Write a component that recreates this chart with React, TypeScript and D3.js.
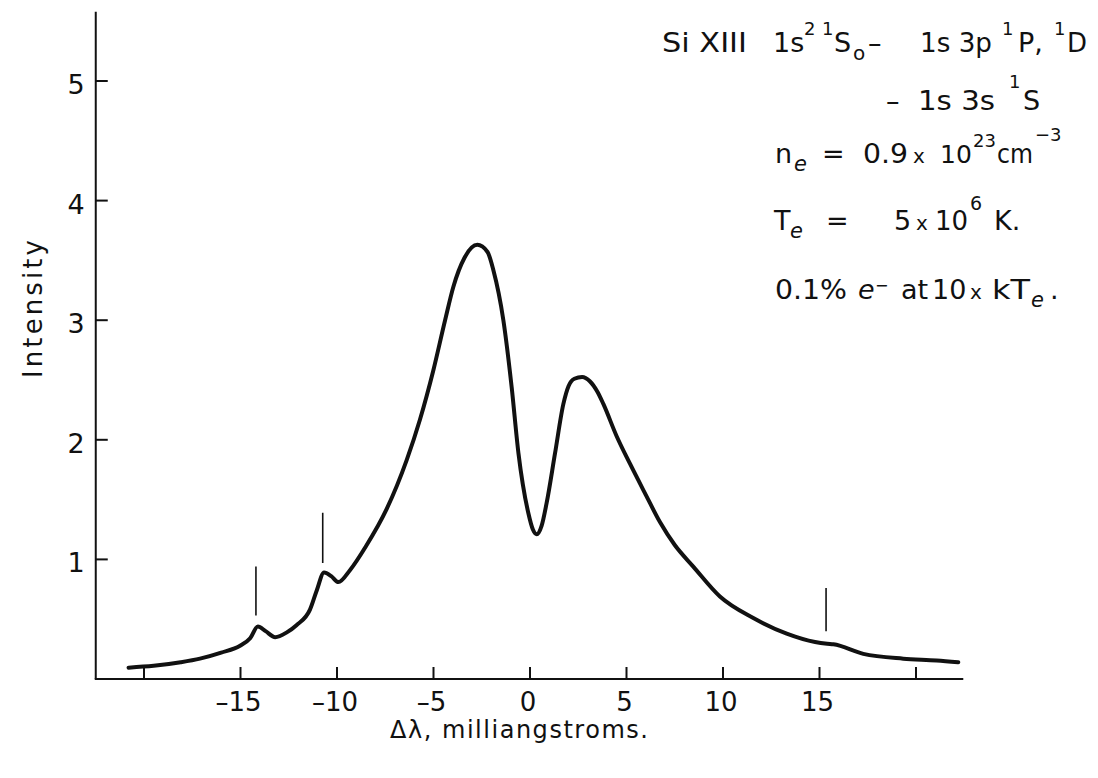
import React from "react";
import * as d3 from "d3";

// ---- data ----
const deltaLambda = [
  -20.8, -19.5, -18.1, -17.1, -16.0, -15.0, -14.5, -14.1, -13.7, -13.2, -12.6, -12.1,
  -11.4, -11.05, -10.67, -10.3, -9.93, -9.33, -8.5, -7.43, -6.39, -5.7, -5.01, -4.4, -3.97,
  -3.4, -2.73, -2.2, -1.9, -1.38, -0.95, -0.6, -0.09, 0.15, 0.35, 0.6, 0.86, 1.3, 1.73,
  2.0, 2.3, 2.7, 3.1, 3.5, 3.8, 4.49, 5.18, 6.0, 6.74, 7.5, 8.46, 9.84, 11.57, 13.3, 14.77,
  15.4, 15.72, 17.27, 19.34, 21.07, 22.19,
];
const intensity = [
  0.095, 0.11, 0.14, 0.17, 0.22, 0.28, 0.34, 0.44, 0.4, 0.35, 0.39, 0.45,
  0.58, 0.74, 0.89, 0.86, 0.81, 0.91, 1.11, 1.42, 1.83, 2.17, 2.58, 3.0, 3.28,
  3.52, 3.63, 3.57, 3.42, 3.0, 2.44, 1.89, 1.39, 1.25, 1.21, 1.28, 1.47, 1.89, 2.3,
  2.45, 2.51, 2.525, 2.49, 2.4, 2.3, 2.03, 1.8, 1.54, 1.31, 1.12, 0.94, 0.69, 0.51, 0.38, 0.31,
  0.295, 0.29, 0.21, 0.17, 0.155, 0.14,
];
const markerX = [-14.2, -10.74, 15.34];
const markerLow = [0.53, 0.97, 0.4];
const markerHigh = [0.94, 1.39, 0.76];

const xTicks = [-20, -15, -10, -5, 0, 5, 10, 15, 20];
const xTickLabels = ["", "\u201315", "\u201310", "\u20135", "0", "5", "10", "15", ""];
const yTicks = [1, 2, 3, 4, 5];
const yTickLabels = ["1", "2", "3", "4", "5"];
const xDomain = [-22.5, 22.45];
const yDomain = [0, 5.58];

const FONT = "'DejaVu Sans', Verdana, sans-serif";

// annotation block: one text per line, pieces as tspans
type Piece = { t: string; x: number; y: number; s: number; it?: boolean; w?: number };
const line1: Piece[] = [
  { t: "Si XIII", x: 662, y: 52, s: 27, w: 85 },
  { t: "1s", x: 773, y: 52, s: 27 },
  { t: "2", x: 804, y: 35, s: 18 },
  { t: "1", x: 822, y: 35, s: 18 },
  { t: "S", x: 834, y: 52, s: 27 },
  { t: "o", x: 853, y: 60, s: 20 },
  { t: "\u2013", x: 868, y: 52, s: 27 },
  { t: "1s 3p", x: 920, y: 52, s: 27, w: 72 },
  { t: "1", x: 1002, y: 35, s: 18 },
  { t: "P,", x: 1018, y: 52, s: 27 },
  { t: "1", x: 1054, y: 35, s: 18 },
  { t: "D", x: 1067, y: 52, s: 26 },
];
const line2: Piece[] = [
  { t: "\u2013", x: 886, y: 110, s: 27 },
  { t: "1s 3s", x: 918, y: 110, s: 27, w: 77 },
  { t: "1", x: 1009, y: 88, s: 18 },
  { t: "S", x: 1023, y: 110, s: 27 },
];
const line3: Piece[] = [
  { t: "n", x: 775, y: 163, s: 27 },
  { t: "e", x: 794, y: 171, s: 21, it: true },
  { t: "=", x: 822, y: 163, s: 27 },
  { t: "0.9", x: 863, y: 163, s: 27, w: 45 },
  { t: "x", x: 913, y: 163, s: 20 },
  { t: "10", x: 940, y: 163, s: 25 },
  { t: "23", x: 973, y: 147, s: 18 },
  { t: "cm", x: 997, y: 163, s: 27, w: 36 },
  { t: "\u22123", x: 1035, y: 141, s: 18 },
];
const line4: Piece[] = [
  { t: "T", x: 774, y: 230, s: 27 },
  { t: "e", x: 790, y: 238, s: 21, it: true },
  { t: "=", x: 826, y: 230, s: 27 },
  { t: "5", x: 894, y: 230, s: 27 },
  { t: "x", x: 916, y: 230, s: 20 },
  { t: "10", x: 935, y: 230, s: 26 },
  { t: "6", x: 970, y: 210, s: 19 },
  { t: "K.", x: 994, y: 230, s: 27 },
];
const line5: Piece[] = [
  { t: "0.1%", x: 775, y: 299, s: 27, w: 72 },
  { t: "e", x: 858, y: 299, s: 27, it: true },
  { t: "\u2212", x: 875, y: 291, s: 16 },
  { t: "at", x: 901, y: 299, s: 27 },
  { t: "10", x: 932, y: 299, s: 27 },
  { t: "x", x: 970, y: 299, s: 20 },
  { t: "kT", x: 992, y: 299, s: 27, w: 38 },
  { t: "e", x: 1031, y: 307, s: 21, it: true },
  { t: ".", x: 1050, y: 299, s: 27 },
];
const annotationLines = [line1, line2, line3, line4, line5];

export default function App() {
  const x = d3.scaleLinear().domain([-20, 20]).range([144, 916]);
  const y = d3.scaleLinear().domain([0, 5]).range([679, 81]);

  const pts = deltaLambda.map((d, i) => [d, intensity[i]] as [number, number]);
  const line = d3
    .line<[number, number]>()
    .x((d) => x(d[0]))
    .y((d) => y(d[1]))
    .curve(d3.curveMonotoneX);

  const x0 = x(xDomain[0]);
  const x1 = x(xDomain[1]);
  const yb = y(yDomain[0]);
  const yt = y(yDomain[1]);

  return (
    <div style={{ position: "absolute", left: 0, top: 0 }}>
      <svg width={1098} height={778} style={{ display: "block", background: "#fff" }} fontFamily={FONT}>
        <rect width={1098} height={778} fill="#fff" />
        {/* axes */}
        <line x1={x0} y1={yt} x2={x0} y2={yb} stroke="#111" strokeWidth={2} />
        <line x1={x0 - 1} y1={yb} x2={x1} y2={yb} stroke="#111" strokeWidth={2} />
        {yTicks.map((t, i) => (
          <g key={"yt" + t}>
            <line x1={x0} x2={x0 + 12} y1={y(t)} y2={y(t)} stroke="#111" strokeWidth={2} />
            <text x={x0 - 11} y={y(t) + 13} fontSize={27} textAnchor="end" fill="#111">
              {yTickLabels[i]}
            </text>
          </g>
        ))}
        {xTicks.map((t, i) => (
          <g key={"xt" + t}>
            <line x1={x(t)} x2={x(t)} y1={yb} y2={yb - 12} stroke="#111" strokeWidth={2} />
            {xTickLabels[i] && (
              <text x={x(t) - 2} y={711} fontSize={26} textAnchor="middle" fill="#111">
                {xTickLabels[i]}
              </text>
            )}
          </g>
        ))}
        {/* axis titles */}
        <text x={390} y={738} fontSize={24} fill="#111" textLength={258} lengthAdjust="spacing">
          Δλ, milliangstroms.
        </text>
        <text
          transform="translate(42,378) rotate(-90)"
          x={0}
          y={0}
          fontSize={26}
          fill="#111"
          textLength={138}
          lengthAdjust="spacing"
        >
          Intensity
        </text>
        {/* markers */}
        {markerX.map((m, i) => (
          <line
            key={"m" + i}
            x1={x(m)}
            x2={x(m)}
            y1={y(markerLow[i])}
            y2={y(markerHigh[i])}
            stroke="#111"
            strokeWidth={1.6}
          />
        ))}
        {/* curve */}
        <path
          d={line(pts) || ""}
          fill="none"
          stroke="#111"
          strokeWidth={4}
          strokeLinejoin="round"
          strokeLinecap="round"
        />
        {/* annotation */}
        {annotationLines.map((ln, li) => (
          <text key={"al" + li} fill="#111">
            {ln.map((p, i) => (
              <tspan
                key={i}
                x={p.x}
                y={p.y}
                fontSize={p.s}
                fontStyle={p.it ? "italic" : "normal"}
                {...(p.w ? { textLength: p.w, lengthAdjust: "spacingAndGlyphs" } : {})}
              >
                {p.t}
              </tspan>
            ))}
          </text>
        ))}
      </svg>
    </div>
  );
}
